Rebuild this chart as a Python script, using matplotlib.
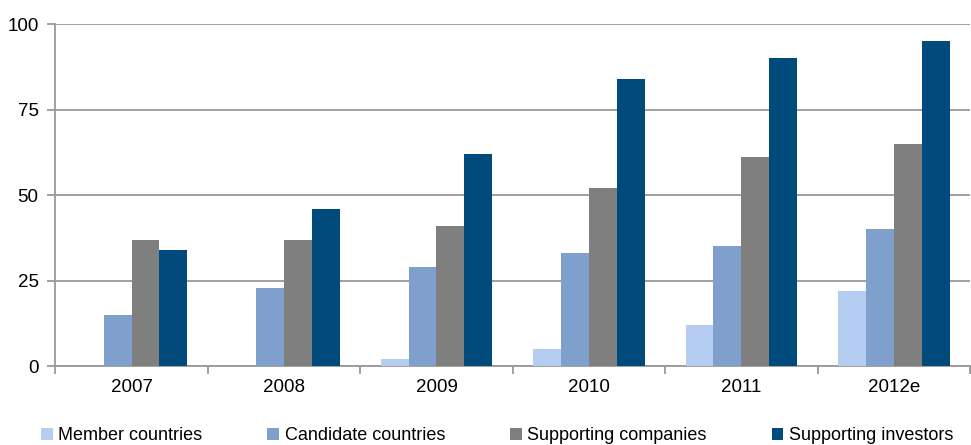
import numpy as np
import matplotlib.pyplot as plt

plt.rcParams['font.family'] = ['Liberation Sans', 'DejaVu Sans']

years = ['2007', '2008', '2009', '2010', '2011', '2012e']
member = [0, 0, 2, 5, 12, 22]
candidate = [15, 23, 29, 33, 35, 40]
companies = [37, 37, 41, 52, 61, 65]
investors = [34, 46, 62, 84, 90, 95]

series = [('Member countries', member, '#B4CDF0'),
          ('Candidate countries', candidate, '#7F9FCC'),
          ('Supporting companies', companies, '#7F7F7F'),
          ('Supporting investors', investors, '#004B7B')]

fig = plt.figure(figsize=(9.71, 4.45), dpi=100)
ax = fig.add_axes([0.057, 0.177, 0.942, 0.769])

x = np.arange(len(years))
w = 0.183
for i, (name, vals, col) in enumerate(series):
    ax.bar(x + (i - 1.5) * w, vals, w, color=col, label=name, zorder=3)

ax.set_xlim(-0.5, len(years) - 0.5)
ax.set_ylim(0, 100)
ax.set_yticks([0, 25, 50, 75, 100])
ax.yaxis.grid(True, color='#999999', linewidth=1.3, zorder=0)

# category labels centred, tick marks on the boundaries
ax.set_xticks(x)
ax.set_xticklabels(years)
ax.set_xticks(np.arange(len(years) + 1) - 0.5, minor=True)
ax.tick_params(axis='x', which='major', length=0, pad=9, labelsize=13.5)
ax.tick_params(axis='x', which='minor', length=6, color='#999999', width=1.3, direction='out')
ax.tick_params(axis='y', length=6, color='#999999', width=1.3, labelsize=13.5, pad=6)

for s in ['top', 'right']:
    ax.spines[s].set_visible(False)
for s in ['left', 'bottom']:
    ax.spines[s].set_color('#999999')
    ax.spines[s].set_linewidth(1.3)

fig.legend(loc='lower center', bbox_to_anchor=(0.512, -0.035), ncol=4, frameon=False,
           fontsize=13, handlelength=0.65, handleheight=0.65, handletextpad=0.3,
           columnspacing=3.6)

fig.savefig('out.png', dpi=100)
